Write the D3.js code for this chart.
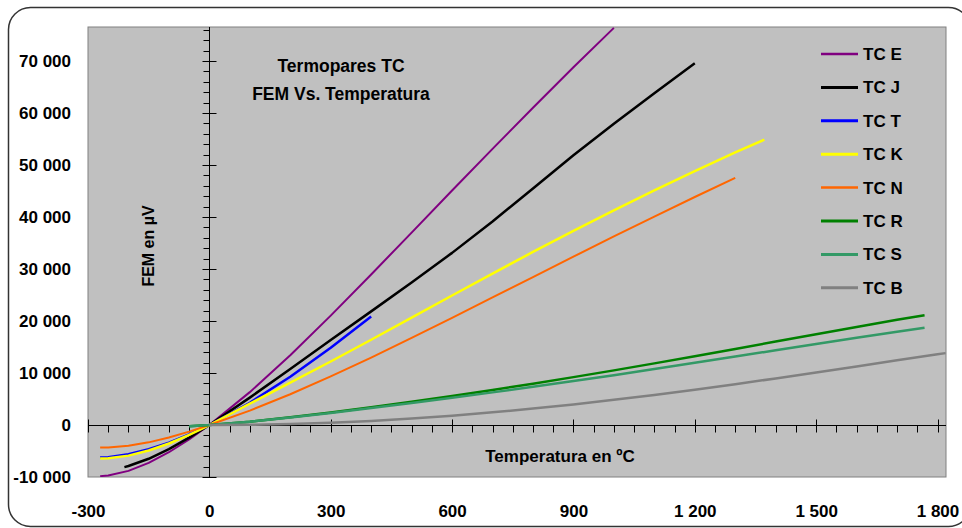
<!DOCTYPE html>
<html>
<head>
<meta charset="utf-8">
<script src="https://cdn.jsdelivr.net/npm/d3@7"></script>
<style>
  body { margin: 0; background: #fff; }
  text { font-family: "Liberation Sans", Arial, sans-serif; font-weight: bold; fill: #000; }
</style>
</head>
<body>
<div id="chart"></div>
<script>
// thermocouple tables, [temperature ºC, EMF µV]
const tcE = [[-270,-9835],[-250,-9718],[-200,-8825],[-150,-7279],[-100,-5237],[-50,-2787],[0,0],[100,6319],[200,13421],[300,21036],[400,28946],[500,37005],[600,45093],[700,53112],[800,61017],[900,68787],[1000,76373]];
const tcJ = [[-210,-8095],[-200,-7890],[-150,-6500],[-100,-4633],[-50,-2431],[0,0],[100,5269],[200,10779],[300,16327],[400,21848],[500,27393],[600,33102],[700,39132],[800,45494],[900,51877],[1000,57953],[1100,63792],[1200,69553]];
const tcT = [[-270,-6258],[-250,-6180],[-200,-5603],[-150,-4648],[-100,-3379],[-50,-1819],[0,0],[100,4279],[200,9288],[300,14862],[400,20872]];
const tcK = [[-270,-6458],[-250,-6404],[-200,-5891],[-150,-4913],[-100,-3554],[-50,-1889],[0,0],[100,4096],[200,8138],[300,12209],[400,16397],[500,20644],[600,24905],[700,29129],[800,33275],[900,37326],[1000,41276],[1100,45119],[1200,48838],[1300,52410],[1372,54886]];
const tcN = [[-270,-4345],[-250,-4313],[-200,-3990],[-150,-3336],[-100,-2407],[-50,-1269],[0,0],[100,2774],[200,5913],[300,9341],[400,12974],[500,16748],[600,20613],[700,24527],[800,28455],[900,32371],[1000,36256],[1100,40087],[1200,43846],[1300,47513]];
const tcR = [[-50,-226],[0,0],[100,647],[200,1469],[300,2401],[400,3408],[500,4471],[600,5583],[700,6743],[800,7950],[900,9205],[1000,10506],[1100,11850],[1200,13228],[1300,14629],[1400,16040],[1500,17451],[1600,18849],[1700,20222],[1768,21101]];
const tcS = [[-50,-236],[0,0],[100,646],[200,1441],[300,2323],[400,3259],[500,4233],[600,5239],[700,6275],[800,7345],[900,8449],[1000,9587],[1100,10757],[1200,11951],[1300,13159],[1400,14373],[1500,15582],[1600,16777],[1700,17947],[1768,18693]];
const tcB = [[0,0],[100,33],[200,178],[300,431],[400,787],[500,1242],[600,1792],[700,2431],[800,3154],[900,3957],[1000,4834],[1100,5780],[1200,6786],[1300,7848],[1400,8956],[1500,10099],[1600,11263],[1700,12433],[1800,13591],[1820,13820]];

const seriesNames  = ["TC E", "TC J", "TC T", "TC K", "TC N", "TC R", "TC S", "TC B"];
const seriesData   = [tcE, tcJ, tcT, tcK, tcN, tcR, tcS, tcB];
const seriesColors = ["#800080", "#000000", "#0000ff", "#ffff00", "#ff6600", "#008000", "#339966", "#808080"];
const seriesWidths = [2, 2.5, 2.5, 2.5, 2, 2.5, 2.5, 2.5];

const xTicks = [-300, 0, 300, 600, 900, 1200, 1500, 1800];
const yTicks = [-10000, 0, 10000, 20000, 30000, 40000, 50000, 60000, 70000];

var width = 962, height = 528;
var plotLeft = 88, plotTop = 27, plotRight = 946, plotBottom = 477;

const svg = d3.select('#chart').append('svg')
	.attr('width', width)
	.attr('height', height);

// outer rounded frame
svg.append('rect')
	.attr('x', 8.5).attr('y', 7.5)
	.attr('width', 962).attr('height', 519)
	.attr('rx', 22)
	.attr('fill', 'none')
	.attr('stroke', '#333')
	.attr('stroke-width', 1.5);

var x = d3.scaleLinear().domain([-300, 1821]).range([plotLeft, plotRight]);
var y = d3.scaleLinear().domain([-10000, 76540]).range([plotBottom, plotTop]);

svg.append('rect')
	.attr('x', plotLeft).attr('y', plotTop)
	.attr('width', plotRight - plotLeft).attr('height', plotBottom - plotTop)
	.attr('fill', '#c0c0c0')
	.attr('stroke', '#808080')
	.attr('stroke-width', 1);

svg.append('clipPath').attr('id', 'plotclip')
	.append('rect')
	.attr('x', plotLeft).attr('y', plotTop)
	.attr('width', plotRight - plotLeft).attr('height', plotBottom - plotTop);

const fmt = d3.formatLocale({decimal: ",", thousands: " ", grouping: [3], currency: ["", ""], minus: "-"}).format(",d");

// axes through the origin
var x0 = Math.round(x(0)) + 0.5, y0 = Math.round(y(0)) + 0.5;
var ax = svg.append('g').attr('stroke', '#000').attr('stroke-width', 1);

ax.append('line').attr('x1', plotLeft).attr('x2', plotRight).attr('y1', y0).attr('y2', y0);
ax.append('line').attr('x1', x0).attr('x2', x0).attr('y1', plotTop).attr('y2', plotBottom);

// x ticks: minor every 50 below, major every 300 crossing
ax.selectAll('line.xminor')
	.data(d3.range(-300, 1821, 50).filter(d => d % 300 != 0))
	.enter().append('line')
	.attr('class', 'xminor')
	.attr('x1', d => Math.round(x(d)) + 0.5).attr('x2', d => Math.round(x(d)) + 0.5)
	.attr('y1', y0).attr('y2', y0 + 7);
ax.selectAll('line.xmajor')
	.data(xTicks)
	.enter().append('line')
	.attr('class', 'xmajor')
	.attr('x1', d => Math.round(x(d)) + 0.5).attr('x2', d => Math.round(x(d)) + 0.5)
	.attr('y1', y0 - 6).attr('y2', y0 + 7);

// y ticks: minor every 2000 left, major every 10000 crossing
ax.selectAll('line.yminor')
	.data(d3.range(-10000, 76001, 2000).filter(d => d % 10000 != 0))
	.enter().append('line')
	.attr('class', 'yminor')
	.attr('y1', d => Math.round(y(d)) + 0.5).attr('y2', d => Math.round(y(d)) + 0.5)
	.attr('x1', x0 - 6).attr('x2', x0);
ax.selectAll('line.ymajor')
	.data(yTicks)
	.enter().append('line')
	.attr('class', 'ymajor')
	.attr('y1', d => Math.round(y(d)) + 0.5).attr('y2', d => Math.round(y(d)) + 0.5)
	.attr('x1', x0 - 7).attr('x2', x0 + 7);

// tick labels outside the plot
var xLab = svg.append('g')
	.attr('transform', 'translate(0,505)')
	.call(d3.axisBottom(x).tickValues(xTicks).tickSize(0).tickPadding(0).tickFormat(fmt));
var yLab = svg.append('g')
	.attr('transform', 'translate(71,0)')
	.call(d3.axisLeft(y).tickValues(yTicks).tickSize(0).tickPadding(0).tickFormat(fmt));
[xLab, yLab].forEach(g => {
	g.select('.domain').remove();
	g.selectAll('text')
		.attr('fill', '#000')
		.style('font-family', '"Liberation Sans", Arial, sans-serif')
		.style('font-weight', 'bold')
		.style('font-size', '17px');
});

// series
var line = d3.line().x(d => x(d[0])).y(d => y(d[1]));
svg.append('g')
	.attr('clip-path', 'url(#plotclip)')
	.selectAll('path')
	.data(seriesData)
	.enter().append('path')
	.attr('d', line)
	.attr('fill', 'none')
	.attr('stroke', (d, i) => seriesColors[i])
	.attr('stroke-width', (d, i) => seriesWidths[i])
	.attr('stroke-linejoin', 'round');

// title and axis titles
svg.append('text').attr('x', 341).attr('y', 72)
	.attr('text-anchor', 'middle').style('font-size', '17.5px')
	.text('Termopares TC');
svg.append('text').attr('x', 341).attr('y', 100)
	.attr('text-anchor', 'middle').style('font-size', '17.5px')
	.text('FEM Vs. Temperatura');
svg.append('text').attr('x', 560).attr('y', 462)
	.attr('text-anchor', 'middle').style('font-size', '17px')
	.text('Temperatura en ºC');
svg.append('text')
	.attr('transform', 'translate(154,246) rotate(-90)')
	.attr('text-anchor', 'middle').style('font-size', '16px')
	.text('FEM en µV');

// legend
var leg = svg.append('g').selectAll('g')
	.data(seriesNames)
	.enter().append('g')
	.attr('transform', (d, i) => 'translate(0,' + (54 + i * 33.4) + ')');
leg.append('line')
	.attr('x1', 821).attr('x2', 858)
	.attr('stroke', (d, i) => seriesColors[i])
	.attr('stroke-width', (d, i) => seriesWidths[i] + 0.5);
leg.append('text')
	.attr('x', 863).attr('y', 6)
	.style('font-size', '17px')
	.text(d => d);
</script>
</body>
</html>
